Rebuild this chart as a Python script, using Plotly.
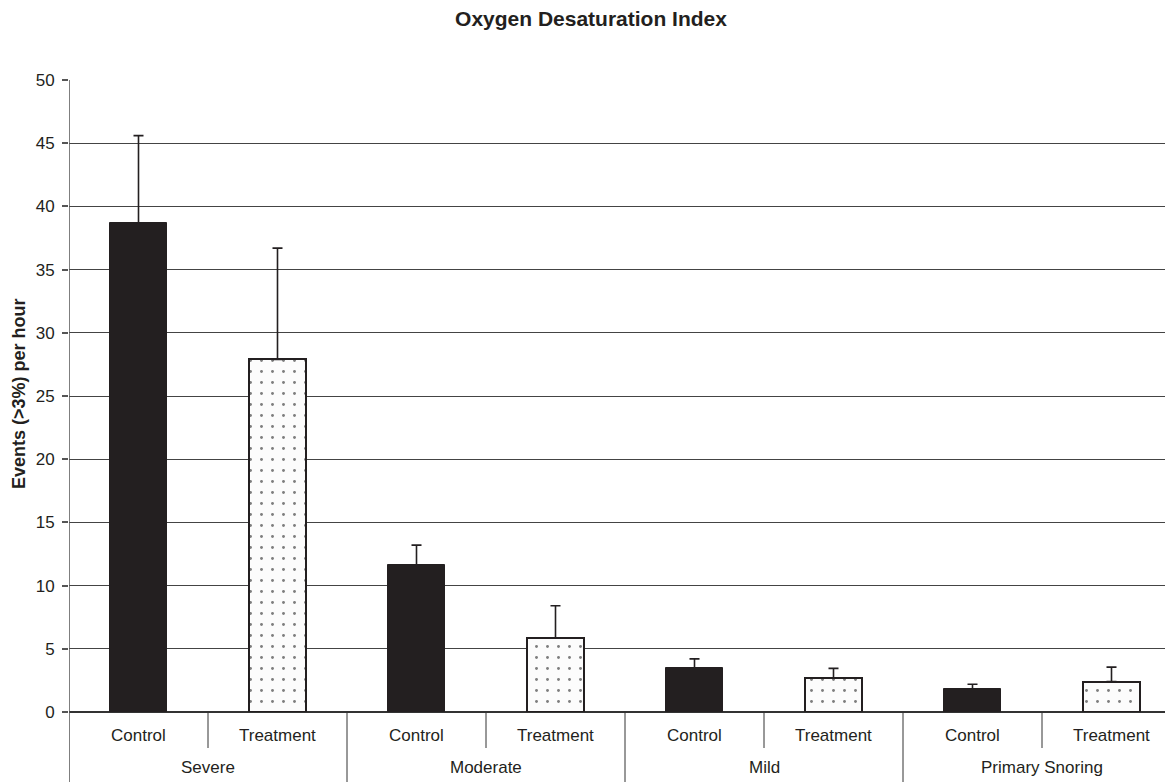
import plotly.graph_objects as go

groups = ["Severe", "Moderate", "Mild", "Primary Snoring"]
conditions = ["Control", "Treatment"]
control_vals = [38.7, 11.65, 3.45, 1.8]
control_err = [6.9, 1.55, 0.75, 0.4]
treatment_vals = [27.9, 5.85, 2.7, 2.4]
treatment_err = [8.8, 2.55, 0.75, 1.15]
y_ticks = [0, 5, 10, 15, 20, 25, 30, 35, 40, 45, 50]

OFF = 8  # default page body margin
W, H = 1173 - OFF, 782 - OFF
L, T, B = 69 - OFF, 80 - OFF, 70
plot_h = H - T - B
slot = 139.0
plot_w = W - L
x_max = -0.5 + plot_w / slot

ctrl_x = [2 * i for i in range(len(groups))]
trt_x = [2 * i + 1 for i in range(len(groups))]
bw = 57 / slot
font = "Liberation Sans, Arial, sans-serif"
ink = "#231f20"

fig = go.Figure()
fig.add_trace(go.Bar(
    x=ctrl_x, y=control_vals, width=bw,
    marker=dict(color=ink, line=dict(color=ink, width=1)),
    error_y=dict(type="data", array=control_err, arrayminus=[0]*4, symmetric=False,
                 color=ink, thickness=1.6, width=5),
    showlegend=False,
))
fig.add_trace(go.Bar(
    x=trt_x, y=treatment_vals, width=bw,
    marker=dict(color="white", line=dict(color=ink, width=2),
                pattern=dict(shape=".", fgcolor="#000", bgcolor="#fcfcfc", size=11, solidity=0.055)),
    error_y=dict(type="data", array=treatment_err, arrayminus=[0]*4, symmetric=False,
                 color=ink, thickness=1.6, width=5),
    showlegend=False,
))

shapes = []
def py(px_below):
    return -px_below / plot_h

shapes.append(dict(type="line", xref="x", yref="paper", x0=-0.5, x1=-0.5, y0=1, y1=py(B),
                   line=dict(color="#555", width=1.5)))
for i in range(len(groups)):
    xi = 2 * i + 0.5
    shapes.append(dict(type="line", xref="x", yref="paper", x0=xi, x1=xi, y0=0, y1=py(36),
                       line=dict(color="#333", width=1)))
    if i > 0:
        xg = 2 * i - 0.5
        shapes.append(dict(type="line", xref="x", yref="paper", x0=xg, x1=xg, y0=0, y1=py(B),
                           line=dict(color="#333", width=1)))

annotations = []
for i, g in enumerate(groups):
    for j, c in enumerate(conditions):
        annotations.append(dict(x=2 * i + j, y=py(23), xref="x", yref="paper", text=c,
                                showarrow=False, font=dict(family=font, size=17, color=ink),
                                yanchor="middle"))
    annotations.append(dict(x=2 * i + 0.5, y=py(55), xref="x", yref="paper", text=g,
                            showarrow=False, font=dict(family=font, size=17, color=ink),
                            yanchor="middle"))
annotations.append(dict(x=(19 - 69) / plot_w, y=(712 - 394) / plot_h, xref="paper", yref="paper",
                        text="<b>Events (>3%) per hour</b>", textangle=-90, showarrow=False,
                        xanchor="center", yanchor="middle",
                        font=dict(family=font, size=18, color=ink)))

fig.update_layout(
    width=W, height=H,
    margin=dict(l=L, r=0, t=T, b=B),
    paper_bgcolor="white", plot_bgcolor="white",
    title=dict(text="<b>Oxygen Desaturation Index</b>", x=(591 - OFF) / W, xanchor="center",
               y=1 - (19 - OFF) / H, yanchor="middle", yref="container",
               font=dict(family=font, size=21, color=ink)),
    xaxis=dict(range=[-0.5, x_max], showticklabels=False, showgrid=False, zeroline=False,
               showline=False, ticks="", fixedrange=True),
    yaxis=dict(range=[0, 50], tickvals=y_ticks, showgrid=True, gridcolor="#444", gridwidth=1,
               zeroline=True, zerolinecolor="#333", zerolinewidth=1.5,
               showline=False, ticks="outside", ticklen=6, tickcolor="#555", tickwidth=1.5,
               ticklabelstandoff=4,
               tickfont=dict(family=font, size=17, color=ink)),
    shapes=shapes, annotations=annotations,
    bargap=0,
)
fig.write_html("out.html")
